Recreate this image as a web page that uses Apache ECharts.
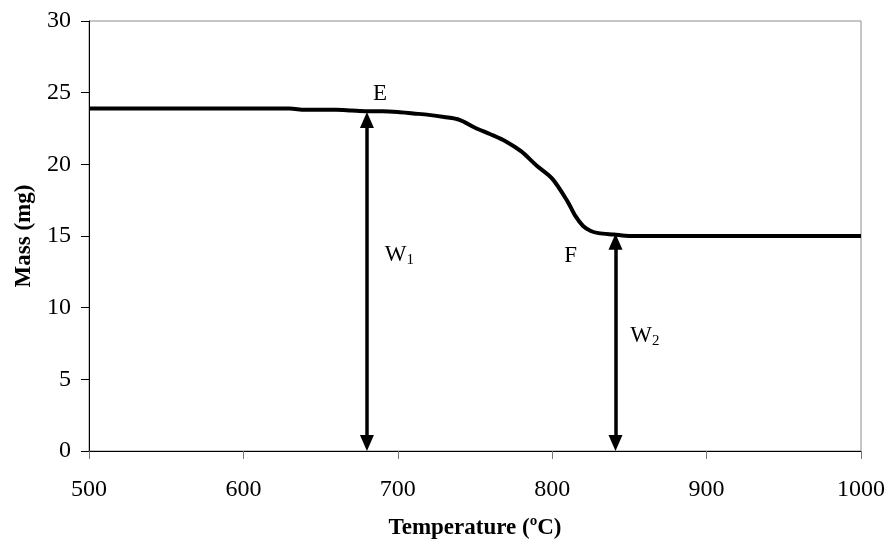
<!DOCTYPE html>
<html>
<head>
<meta charset="utf-8">
<script src="https://cdn.jsdelivr.net/npm/echarts@6/dist/echarts.min.js"></script>
<style>
  html, body { margin: 0; padding: 0; background: #fff; }
  #chart { width: 888px; height: 545px; }
</style>
</head>
<body>
<div id="chart"></div>
<script>
const temps = [500, 510, 520, 530, 540, 550, 560, 570, 580, 590, 600, 610, 620, 630, 640, 650, 660, 670, 680, 690, 700, 710, 720, 730, 740, 750, 760, 770, 780, 790, 800, 810, 815, 820, 825, 830, 840, 850, 860, 880, 900, 920, 940, 960, 980, 1000]
const masses = [23.9, 23.9, 23.9, 23.9, 23.9, 23.9, 23.9, 23.9, 23.9, 23.9, 23.9, 23.9, 23.9, 23.9, 23.8, 23.8, 23.8, 23.75, 23.7, 23.7, 23.65, 23.55, 23.45, 23.3, 23.1, 22.55, 22.1, 21.6, 20.9, 19.9, 19.0, 17.4, 16.4, 15.7, 15.35, 15.2, 15.1, 15.0, 15.0, 15.0, 15.0, 15.0, 15.0, 15.0, 15.0, 15.0]

// arrows: [temperature, bottom, top]
const arrowW1 = [680, 0.55, 23.1]
const arrowW2 = [841, 0.55, 14.6]

// text labels: [temperature, mass, text, subscript]
const labelE = [688.5, 24.9, 'E']
const labelF = [812, 13.6, 'F']
const labelW1 = [701, 13.7, 'W', '1']
const labelW2 = [860, 8.0, 'W', '2']

const chart = echarts.init(document.getElementById('chart'))
const serif = 'Liberation Serif'

function textPoint (x, y, main, sub) {
  const txt = sub ? '{m|' + main + '}{s|' + sub + '}' : '{m|' + main + '}'
  return {
    value: [x, y],
    label: {
      show: true,
      position: 'inside',
      color: '#000',
      textBorderWidth: 0,
      formatter: txt,
      rich: {
        m: { fontFamily: serif, fontSize: 23, color: '#000', textBorderWidth: 0 },
        s: { fontFamily: serif, fontSize: 15, color: '#000', textBorderWidth: 0, padding: [10, 0, 0, 0] }
      }
    }
  }
}

const option = {
  animation: false,
  grid: {
    left: 89, right: 26, top: 21, bottom: 94,
    show: true, borderColor: '#8c8c8c', borderWidth: 1
  },
  xAxis: {
    type: 'value',
    min: 500, max: 1000, interval: 100,
    name: 'Temperature (ºC)',
    nameLocation: 'middle',
    nameGap: 66,
    nameTextStyle: { fontFamily: serif, fontSize: 23, fontWeight: 'bold', color: '#000' },
    axisLine: { lineStyle: { color: '#000', width: 1 } },
    axisTick: { length: 8, lineStyle: { color: '#777' } },
    axisLabel: { fontFamily: serif, fontSize: 24, color: '#000', margin: 27, formatter: v => String(v) },
    splitLine: { show: false }
  },
  yAxis: {
    type: 'value',
    min: 0, max: 30, interval: 5,
    name: 'Mass (mg)',
    nameLocation: 'middle',
    nameGap: 53,
    nameTextStyle: { fontFamily: serif, fontSize: 23, fontWeight: 'bold', color: '#000' },
    axisLine: { show: true, lineStyle: { color: '#000', width: 1 } },
    axisTick: { show: true, length: 8, lineStyle: { color: '#000' } },
    axisLabel: { fontFamily: serif, fontSize: 24, color: '#000', margin: 18 },
    splitLine: { show: false }
  },
  series: [
    {
      type: 'line',
      data: temps.map((t, i) => [t, masses[i]]),
      symbol: 'none',
      smooth: 0.3,
      lineStyle: { color: '#000', width: 4 },
      markLine: {
        silent: true,
        symbol: ['triangle', 'triangle'],
        symbolSize: [14, 16],
        label: { show: false },
        lineStyle: { color: '#000', width: 3.5, type: 'solid' },
        data: [
          [{ coord: [arrowW1[0], arrowW1[1]] }, { coord: [arrowW1[0], arrowW1[2]] }],
          [{ coord: [arrowW2[0], arrowW2[1]] }, { coord: [arrowW2[0], arrowW2[2]] }]
        ]
      }
    },
    {
      type: 'scatter',
      symbolSize: 0,
      silent: true,
      itemStyle: { opacity: 1 },
      data: [
        textPoint(labelE[0], labelE[1], labelE[2]),
        textPoint(labelF[0], labelF[1], labelF[2]),
        textPoint(labelW1[0], labelW1[1], labelW1[2], labelW1[3]),
        textPoint(labelW2[0], labelW2[1], labelW2[2], labelW2[3])
      ]
    }
  ]
}
chart.setOption(option)
</script>
</body>
</html>
